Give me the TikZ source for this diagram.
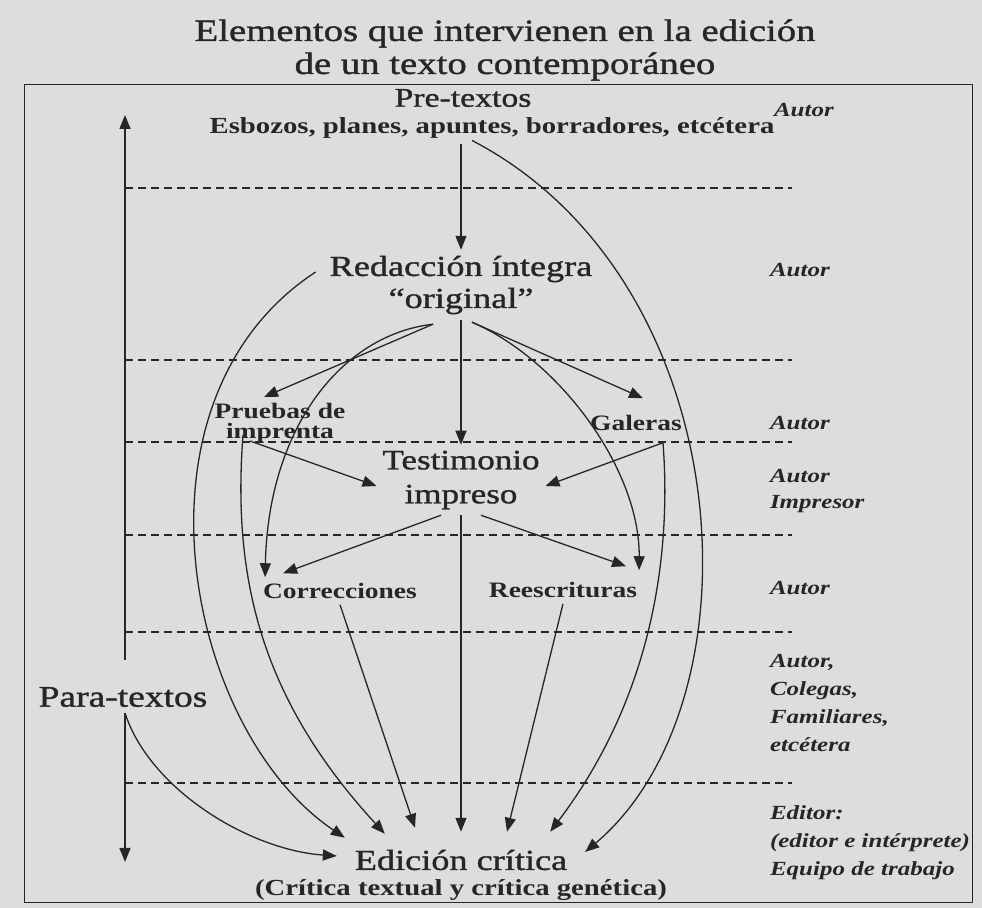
\documentclass[tikz,border=0pt]{standalone}
\usepackage{fontspec}
\setmainfont{Liberation Serif}[FakeStretch=1.25]
\newfontfamily\heavyfont{Liberation Serif}[FakeStretch=1.25,FakeBold=1.2]
\usetikzlibrary{arrows.meta}
\definecolor{paper}{RGB}{221,222,220}
\definecolor{ink}{RGB}{38,38,38}
\begin{document}
\begin{tikzpicture}[x=0.5pt,y=-0.5pt,
    every node/.style={inner sep=1pt,outer sep=2pt,text=ink},
    bigtxt/.style={font=\heavyfont\fontsize{14.5}{16}\selectfont,align=center},
    midtxt/.style={font=\bfseries\fontsize{11}{10}\selectfont,align=center},
    role/.style={font=\bfseries\itshape\fontsize{10}{14}\selectfont,anchor=west,align=left},
    arr/.style={draw=ink,line width=0.65pt,-{Triangle[length=7pt,width=5.5pt]}},
    divline/.style={draw=ink,line width=0.55pt,dash pattern=on 4pt off 2.5pt}]
  \useasboundingbox (0,0) rectangle (982,908);
  \fill[paper] (0,0) rectangle (982,908);
  \draw[ink,line width=0.5pt] (24,85) rectangle (972,903);
  \node[align=center,font=\heavyfont\fontsize{15.5}{16.5}\selectfont] (title) at (505,50) {Elementos que intervienen en la edición\\de un texto contemporáneo};

  \node[bigtxt,font=\heavyfont\fontsize{13.5}{15}\selectfont] (pre) at (463,98) {Pre-textos};
  \node[font=\bfseries\fontsize{11.5}{12}\selectfont] (esb) at (492,128) {Esbozos, planes, apuntes, borradores, etcétera};
  \node[bigtxt] (red) at (461,285) {Redacción íntegra\\“original”};
  \node[midtxt] (pru) at (280,423) {Pruebas de\\imprenta};
  \node[midtxt] (gal) at (636,423) {Galeras};
  \node[bigtxt,font=\heavyfont\fontsize{14}{17}\selectfont] (tes) at (461,480) {Testimonio\\impreso};
  \node[midtxt] (cor) at (340,591) {Correcciones};
  \node[midtxt] (ree) at (563,590) {Reescrituras};
  \node[bigtxt,font=\heavyfont\fontsize{15}{16}\selectfont] (para) at (123,697) {Para-textos};
  \node[bigtxt,outer sep=8pt] (edi) at (461,860) {Edición crítica};
  \node[font=\bfseries\fontsize{11.5}{12}\selectfont] (sub) at (461,890) {(Crítica textual y crítica genética)};

  \node[role] (a1) at (768,110) {Autor};
  \node[role] (a2) at (764,270) {Autor};
  \node[role] (a3) at (764,423) {Autor};
  \node[role,font=\bfseries\itshape\fontsize{10}{13}\selectfont] (a4) at (764,491) {Autor\\Impresor};
  \node[role] (a5) at (764,588) {Autor};
  \node[role] (a6) at (764,703) {Autor,\\Colegas,\\Familiares,\\etcétera};
  \node[role] (a7) at (764,843) {Editor:\\(editor e intérprete)\\Equipo de trabajo};

  \coordinate (ptop) at (125,115);
  \coordinate (pup) at (125,660);
  \coordinate (pdown) at (125,713);
  \coordinate (pbot) at (125,862);
  \coordinate (esbout) at (esb.south -| red.north);

  \foreach \y in {188,360,442,535,632,783}
    \draw[divline] (125,\y) -- (792,\y);

  \draw[arr] (pup) -- (ptop);
  \draw[arr] (pdown) -- (pbot);
  \draw[arr] (pdown) .. controls (150,790) and (250,850) .. ([yshift=2pt]edi.west);

  \draw[arr] (esbout) -- (red.north);
  \draw[arr] ([xshift=5.5pt,yshift=2pt]esbout) .. controls (740,280) and (765,700) .. ([yshift=4pt]edi.east);
  \draw[arr] ([xshift=-4pt,yshift=6.5pt]red.west) .. controls (120,400) and (185,730) .. ([xshift=4pt,yshift=-3pt]edi.north west);

  \draw[arr] ([xshift=-14pt,yshift=-2pt]red.south) -- ([xshift=-8pt]pru.north);
  \draw[arr] ([xshift=-14pt,yshift=-2pt]red.south) .. controls (340,335) and (268,430) .. ([xshift=4pt]cor.north west);
  \draw[arr] (red.south) -- (tes.north);
  \draw[arr] ([xshift=5.5pt,yshift=-1pt]red.south) -- ([xshift=3.5pt,yshift=5.5pt]gal.north);
  \draw[arr] ([xshift=5.5pt,yshift=-1pt]red.south) .. controls (560,360) and (640,470) .. ([xshift=-2pt,yshift=3pt]ree.north east);

  \draw[arr] ([xshift=-15pt,yshift=4pt]pru.south) -- ([yshift=-3pt]tes.west);
  \draw[arr] ([xshift=-18.5pt,yshift=7pt]pru.south) .. controls (232,580) and (262,700) .. ([xshift=24pt,yshift=-1pt]edi.north west);
  \draw[arr] ([xshift=13.5pt,yshift=-3pt]gal.south) -- ([yshift=-3pt]tes.east);
  \draw[arr] ([xshift=13.5pt,yshift=-3pt]gal.south) .. controls (672,560) and (650,700) .. ([xshift=-17.5pt]edi.north east);

  \draw[arr] ([xshift=-10pt]tes.south) -- ([xshift=13pt,yshift=2pt]cor.north west);
  \draw[arr] ([xshift=10pt]tes.south) -- ([xshift=-8.5pt,yshift=5pt]ree.north east);
  \draw[arr] (tes.south) -- (edi.north);
  \draw[arr] (cor.south) -- ([xshift=-23pt,yshift=2pt]edi.north);
  \draw[arr] (ree.south) -- ([xshift=23pt]edi.north);
\end{tikzpicture}
\end{document}
